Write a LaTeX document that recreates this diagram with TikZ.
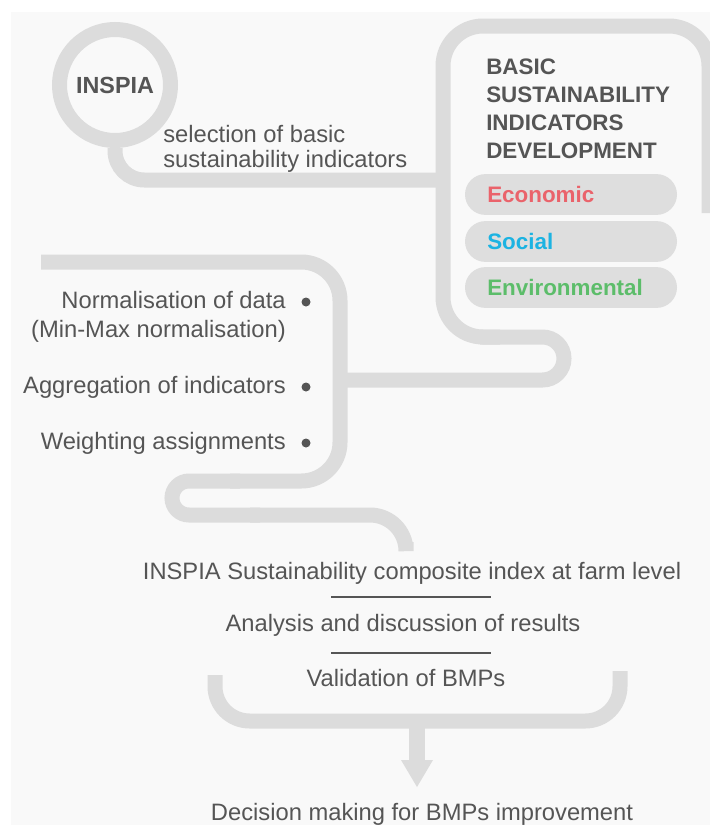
\documentclass[tikz,border=0pt]{standalone}
\usepackage{fontspec}
\setmainfont{Liberation Sans}
\definecolor{bg}{HTML}{F9F9F9}
\definecolor{band}{HTML}{DCDCDC}
\definecolor{pill}{HTML}{DEDEDE}
\definecolor{txt}{HTML}{555555}
\definecolor{econ}{HTML}{EA636B}
\definecolor{soc}{HTML}{1CB3E2}
\definecolor{env}{HTML}{5CBD6A}
\begin{document}
\begin{tikzpicture}[x=0.75pt,y=-0.75pt,
  bandline/.style={draw=band, line width=11.25pt},
  body/.style={text=txt, inner sep=0pt, font=\fontsize{17.8}{21}\selectfont},
  bold/.style={text=txt, inner sep=0pt, font=\fontsize{16.8}{21}\selectfont\bfseries},
  pillbox/.style={fill=pill, rounded corners=15.3pt, minimum width=159pt, minimum height=30.6pt, inner sep=0pt},
  bullet/.style={circle, fill=txt, minimum size=6.75pt, inner sep=0pt},
  sep/.style={draw=txt, line width=1.5pt}]
\useasboundingbox (0,0) rectangle (710,825);
\fill[bg] (11,12) rectangle (710,825);

% INSPIA circle
\node[circle, draw=band, line width=11.25pt, minimum size=83.25pt, inner sep=0pt,
      text=txt, font=\fontsize{17.5}{20}\selectfont\bfseries] (inspia) at (115,85) {INSPIA};

% right rounded frame
\coordinate (rtop) at (709,213);
\coordinate (jA) at (443,180);
\coordinate (jB) at (340,380);
\draw[bandline, rounded corners=30pt] (rtop) -- (709,26) -- (443,26) -- (443,337) -- (500,337);
\draw[bandline, rounded corners=16.1pt] (480,337) -- (564,337) -- (564,380) -- (jB);

% stem from circle
\draw[bandline, rounded corners=22pt] (inspia.south) -- (115,180) -- (jA);

% left frame
\coordinate (lstart) at (41,262);
\coordinate (lend) at (406,542);
\draw[bandline, rounded corners=29pt] (lstart) -- (340,262) -- (340,481) -- (230,481);
\draw[bandline, rounded corners=12.75pt] (240,481) -- (172,481) -- (172,515) -- (260,515);
\draw[bandline, rounded corners=27pt] (250,515) -- (406,515) -- (lend);

% texts at top
\node[body, anchor=base west] (sel1) at (163,142) {selection of basic};
\node[body, anchor=base west] (sel2) at (163,167) {sustainability indicators};

\node[bold, anchor=base west] (h1) at (486,74.5) {BASIC};
\node[bold, anchor=base west] (h2) at (486,102.5) {SUSTAINABILITY};
\node[bold, anchor=base west] (h3) at (486,130.5) {INDICATORS};
\node[bold, anchor=base west] (h4) at (486,158.5) {DEVELOPMENT};

\node[pillbox] (peco) at (571,194.5) {};
\node[pillbox] (psoc) at (571,241.5) {};
\node[pillbox] (penv) at (571,287.5) {};
\node[bold, text=econ, anchor=base west] (teco) at (487,202.5) {Economic};
\node[bold, text=soc, anchor=base west] (tsoc) at (487,249.5) {Social};
\node[bold, text=env, anchor=base west] (tenv) at (487,295.5) {Environmental};

% left list
\node[body, anchor=base east] (l1) at (286,308) {Normalisation of data};
\node[body, anchor=base east] (l1b) at (286,337) {(Min-Max normalisation)};
\node[body, anchor=base east] (l2) at (286,393) {Aggregation of indicators};
\node[body, anchor=base east] (l3) at (286,449) {Weighting assignments};
\node[bullet] (b1) at (306,302) {};
\node[bullet] (b2) at (306,387) {};
\node[bullet] (b3) at (306,443) {};

% bottom
\node[body, anchor=base] (idx) at (412,579) {INSPIA Sustainability composite index at farm level};
\coordinate (s1a) at (331,597);
\coordinate (s1b) at (491,597);
\draw[sep] (s1a) -- (s1b);
\node[body, anchor=base] (ana) at (403,631) {Analysis and discussion of results};
\coordinate (s2a) at (331,653);
\coordinate (s2b) at (491,653);
\draw[sep] (s2a) -- (s2b);
\node[body, anchor=base] (val) at (406,686) {Validation of BMPs};

\coordinate (brL) at (215,675);
\coordinate (brR) at (620,671);
\draw[bandline, rounded corners=26pt] (brL) -- (215,721) -- (620,721) -- (brR);
\coordinate (arrS) at (417,721);
\coordinate (arrH) at (417,762);
\draw[draw=band, line width=12pt] (arrS) -- (arrH);
\fill[band] (401,760) -- (433,760) -- (417,787) -- cycle;

\node[body, anchor=base] (dec) at (422,820) {Decision making for BMPs improvement};
\end{tikzpicture}
\end{document}
